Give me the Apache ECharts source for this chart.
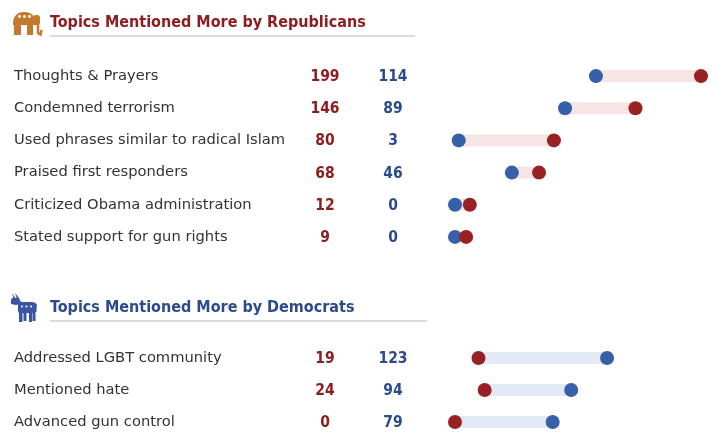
<!DOCTYPE html>
<html>
  <head>
    <meta charset="utf-8" />
    <title>Topics Mentioned</title>
    <script src="https://cdn.jsdelivr.net/npm/echarts@6.0.0/dist/echarts.min.js"></script>
    <style>
      html, body { margin: 0; padding: 0; background: #fff; }
    </style>
  </head>
  <body>
    <div id="chart" style="width: 723px;height:445px;"></div>
    <script type="text/javascript">

      // dados
      var repTopics = ['Thoughts & Prayers', 'Condemned terrorism', 'Used phrases similar to radical Islam',
                       'Praised first responders', 'Criticized Obama administration', 'Stated support for gun rights'];
      var repRep = [199, 146, 80, 68, 12, 9];
      var repDem = [114, 89, 3, 46, 0, 0];

      var demTopics = ['Addressed LGBT community', 'Mentioned hate', 'Advanced gun control'];
      var demRep = [19, 24, 0];
      var demDem = [123, 94, 79];

      var RED = '#982123';
      var BLUE = '#3660a8';
      var RED_TXT = '#8c1d20';
      var BLUE_TXT = '#2c4a8c';
      var ELE = '#c27a30';
      var DON = '#3a55a3';
      var FONT = 'DejaVu Sans';
      var FONT_B = '"DejaVu Sans Condensed", "DejaVu Sans"';

      var chart = echarts.init(document.getElementById('chart'));

      function labelFor(topics, r, d) {
        return {
          align: 'left',
          margin: 441,
          formatter: function (value, idx) {
            return '{n|' + value + '}{r|' + r[idx] + '}{d|' + d[idx] + '}';
          },
          rich: {
            n: { width: 276, align: 'left', fontSize: 14.7, color: '#333', fontFamily: FONT },
            r: { width: 70, align: 'center', fontSize: 15.5, fontWeight: 'bold', color: RED_TXT, fontFamily: FONT_B, padding: [2, 0, 0, 0] },
            d: { width: 66, align: 'center', fontSize: 15.5, fontWeight: 'bold', color: BLUE_TXT, fontFamily: FONT_B, padding: [2, 0, 0, 0] }
          }
        };
      }

      function lows(a, b) { return a.map(function (v, i) { return Math.min(v, b[i]); }); }
      function gaps(a, b) { return a.map(function (v, i) { return Math.abs(v - b[i]); }); }

      var yBase = { type: 'category', inverse: true, axisLine: { show: false }, axisTick: { show: false }, splitLine: { show: false } };
      var xBase = { type: 'value', min: 0, max: 199, show: false };

      var option = {
        animation: false,
        textStyle: { fontFamily: FONT },
        grid: [
          { left: 455, width: 246, top: 60, height: 193 },
          { left: 455, width: 246, top: 342, height: 96 }
        ],
        xAxis: [
          Object.assign({ gridIndex: 0 }, xBase),
          Object.assign({ gridIndex: 1 }, xBase)
        ],
        yAxis: [
          Object.assign({ gridIndex: 0, data: repTopics, axisLabel: labelFor(repTopics, repRep, repDem) }, yBase),
          Object.assign({ gridIndex: 1, data: demTopics, axisLabel: labelFor(demTopics, demRep, demDem) }, yBase)
        ],
        graphic: [
          // elefante
          { type: 'group', x: 12, y: 12, children: [
            { type: 'rect', shape: { x: 1, y: 0, width: 23, height: 13, r: [10, 11, 0, 0] }, style: { fill: ELE } },
            { type: 'rect', shape: { x: 2, y: 11, width: 7, height: 12 }, style: { fill: ELE } },
            { type: 'rect', shape: { x: 15, y: 11, width: 6, height: 12 }, style: { fill: ELE } },
            { type: 'rect', shape: { x: 21, y: 3, width: 7, height: 10, r: 3 }, style: { fill: ELE } },
            { type: 'polyline', shape: { points: [[26, 10], [26, 21], [28.5, 22.5], [29.5, 18]] }, style: { stroke: ELE, lineWidth: 2.5, fill: null } },
            { type: 'circle', shape: { cx: 7.5, cy: 4.5, r: 1.4 }, style: { fill: '#fff' } },
            { type: 'circle', shape: { cx: 12.5, cy: 4.5, r: 1.4 }, style: { fill: '#fff' } },
            { type: 'circle', shape: { cx: 17.5, cy: 4.5, r: 1.4 }, style: { fill: '#fff' } }
          ]},
          { type: 'text', left: 50, top: 15, style: { text: 'Topics Mentioned More by Republicans', fontSize: 16, fontWeight: 'bold', fill: RED_TXT, fontFamily: FONT_B } },
          { type: 'line', shape: { x1: 50, y1: 36, x2: 415, y2: 36 }, style: { stroke: '#cfcfcf', lineWidth: 1.5 } },
          // burro
          { type: 'group', x: 11, y: 293, children: [
            { type: 'polygon', shape: { points: [[1, 0], [5, 6], [3, 7]] }, style: { fill: DON } },
            { type: 'polygon', shape: { points: [[4, 0], [8, 5], [6, 6]] }, style: { fill: DON } },
            { type: 'polygon', shape: { points: [[1, 5], [8, 5], [10, 10], [5, 12], [0, 11], [0, 7]] }, style: { fill: DON } },
            { type: 'polygon', shape: { points: [[6, 6], [12, 10], [9, 14], [5, 10]] }, style: { fill: DON } },
            { type: 'rect', shape: { x: 7, y: 9, width: 17, height: 11, r: [3, 3, 2, 2] }, style: { fill: DON } },
            { type: 'rect', shape: { x: 8, y: 18, width: 3.5, height: 11 }, style: { fill: DON } },
            { type: 'rect', shape: { x: 12.5, y: 18, width: 3, height: 10 }, style: { fill: DON } },
            { type: 'rect', shape: { x: 18, y: 18, width: 3, height: 11 }, style: { fill: DON } },
            { type: 'rect', shape: { x: 21.5, y: 18, width: 3, height: 10 }, style: { fill: DON } },
            { type: 'polyline', shape: { points: [[23, 10], [25, 12], [24.5, 19]] }, style: { stroke: DON, lineWidth: 1.8, fill: null } },
            { type: 'circle', shape: { cx: 11, cy: 13.5, r: 1 }, style: { fill: '#fff' } },
            { type: 'circle', shape: { cx: 15.5, cy: 13.5, r: 1 }, style: { fill: '#fff' } },
            { type: 'circle', shape: { cx: 20, cy: 13.5, r: 1 }, style: { fill: '#fff' } }
          ]},
          { type: 'text', left: 50, top: 300, style: { text: 'Topics Mentioned More by Democrats', fontSize: 16, fontWeight: 'bold', fill: BLUE_TXT, fontFamily: FONT_B } },
          { type: 'line', shape: { x1: 50, y1: 321, x2: 427, y2: 321 }, style: { stroke: '#cfcfcf', lineWidth: 1.5 } }
        ],
        series: [
          // republicanos
          { type: 'bar', xAxisIndex: 0, yAxisIndex: 0, stack: 'r', barWidth: 12, silent: true,
            itemStyle: { color: 'transparent' }, data: lows(repRep, repDem) },
          { type: 'bar', xAxisIndex: 0, yAxisIndex: 0, stack: 'r', barWidth: 12,
            itemStyle: { color: '#f6e5e4' }, data: gaps(repRep, repDem) },
          { type: 'scatter', xAxisIndex: 0, yAxisIndex: 0, symbolSize: 14, z: 3,
            itemStyle: { color: BLUE, opacity: 1 }, data: repDem.map(function (v, i) { return [v, repTopics[i]]; }) },
          { type: 'scatter', xAxisIndex: 0, yAxisIndex: 0, symbolSize: 14, z: 4,
            itemStyle: { color: RED, opacity: 1 }, data: repRep.map(function (v, i) { return [v, repTopics[i]]; }) },
          // democratas
          { type: 'bar', xAxisIndex: 1, yAxisIndex: 1, stack: 'd', barWidth: 12, silent: true,
            itemStyle: { color: 'transparent' }, data: lows(demRep, demDem) },
          { type: 'bar', xAxisIndex: 1, yAxisIndex: 1, stack: 'd', barWidth: 12,
            itemStyle: { color: '#e3eaf5' }, data: gaps(demRep, demDem) },
          { type: 'scatter', xAxisIndex: 1, yAxisIndex: 1, symbolSize: 14, z: 3,
            itemStyle: { color: BLUE, opacity: 1 }, data: demDem.map(function (v, i) { return [v, demTopics[i]]; }) },
          { type: 'scatter', xAxisIndex: 1, yAxisIndex: 1, symbolSize: 14, z: 4,
            itemStyle: { color: RED, opacity: 1 }, data: demRep.map(function (v, i) { return [v, demTopics[i]]; }) }
        ]
      };
      chart.setOption(option);
    </script>
  </body>
</html>
